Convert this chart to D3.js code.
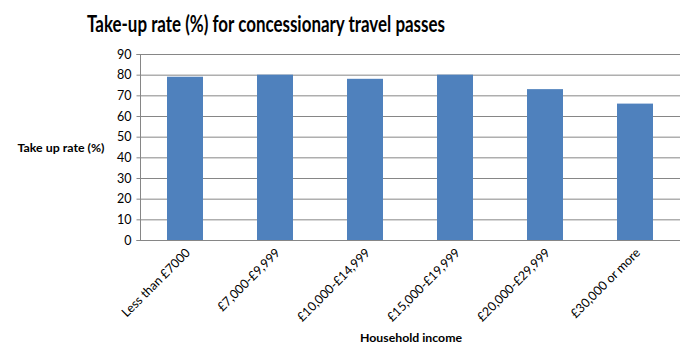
<!DOCTYPE html>
<html><head><meta charset="utf-8">
<script src="https://cdn.jsdelivr.net/npm/d3@7"></script>
<style>body{margin:0;background:#fff}svg{display:block}</style>
</head><body>
<script>
const categories = ["Less than £7000","£7,000-£9,999","£10,000-£14,999","£15,000-£19,999","£20,000-£29,999","£30,000 or more"];
const values = [79, 80, 78, 80, 73, 66];
const yTicks = [0,10,20,30,40,50,60,70,80,90];
const title = "Take-up rate (%) for concessionary travel passes";
const yTitle = "Take up rate (%)";
const xTitle = "Household income";

const W = 694, H = 362;
const m = {left:140, right:14, top:54, bottom:122};
const svg = d3.select("body").append("svg").attr("width",W).attr("height",H);
const x = d3.scaleBand().domain(categories).range([m.left, W-m.right]).paddingInner(0.6).paddingOuter(0.3);
const y = d3.scaleLinear().domain([0,90]).range([H-m.bottom, m.top]);
const FONT = "Lato, Open Sans, sans-serif";

svg.append("g").selectAll("line").data(yTicks.filter(d=>d>0)).join("line")
  .attr("x1", m.left).attr("x2", W-m.right)
  .attr("y1", d=>y(d)+0.5).attr("y2", d=>y(d)+0.5)
  .attr("stroke","#868686").attr("stroke-width",1);

svg.append("g").selectAll("rect").data(values).join("rect")
  .attr("x",(d,i)=>x(categories[i])).attr("width",x.bandwidth())
  .attr("y",d=>y(d)).attr("height",d=>y(0)-y(d))
  .attr("fill","#4F81BD");

const ya = svg.append("g").attr("transform",`translate(${m.left+0.5},0)`)
  .call(d3.axisLeft(y).tickValues(yTicks).tickSize(4).tickPadding(5));
ya.select(".domain").attr("stroke","#868686").attr("d",`M-4,${y(90)+0.5}H0V${y(0)+0.5}H-4`);
ya.selectAll(".tick line").attr("stroke","#868686");
ya.selectAll("text").attr("font-family",FONT).attr("font-size",12.5).attr("fill","#000");

const xa = svg.append("g").attr("transform",`translate(0,${y(0)+0.5})`)
  .call(d3.axisBottom(x).tickSize(0).tickPadding(0));
xa.select(".domain").attr("stroke","#868686").attr("d",`M${m.left},0H${W-m.right}`);
xa.selectAll("text")
  .attr("font-family",FONT).attr("font-size",12.5).attr("fill","#000")
  .attr("text-anchor","end").attr("dy",null).attr("y",0)
  .attr("transform","translate(6,13) rotate(-45)");

svg.append("text").attr("x",266).attr("y",32).attr("text-anchor","middle")
  .attr("font-family",FONT).attr("font-weight","bold").attr("font-size",22)
  .attr("textLength",358).attr("lengthAdjust","spacingAndGlyphs").text(title);
svg.append("text").attr("x",61).attr("y",152).attr("text-anchor","middle")
  .attr("font-family",FONT).attr("font-weight","bold").attr("font-size",11)
  .attr("textLength",87).attr("lengthAdjust","spacingAndGlyphs").text(yTitle);
svg.append("text").attr("x",411).attr("y",342).attr("text-anchor","middle")
  .attr("font-family",FONT).attr("font-weight","bold").attr("font-size",11)
  .attr("textLength",102).attr("lengthAdjust","spacingAndGlyphs").text(xTitle);
</script>
</body></html>
